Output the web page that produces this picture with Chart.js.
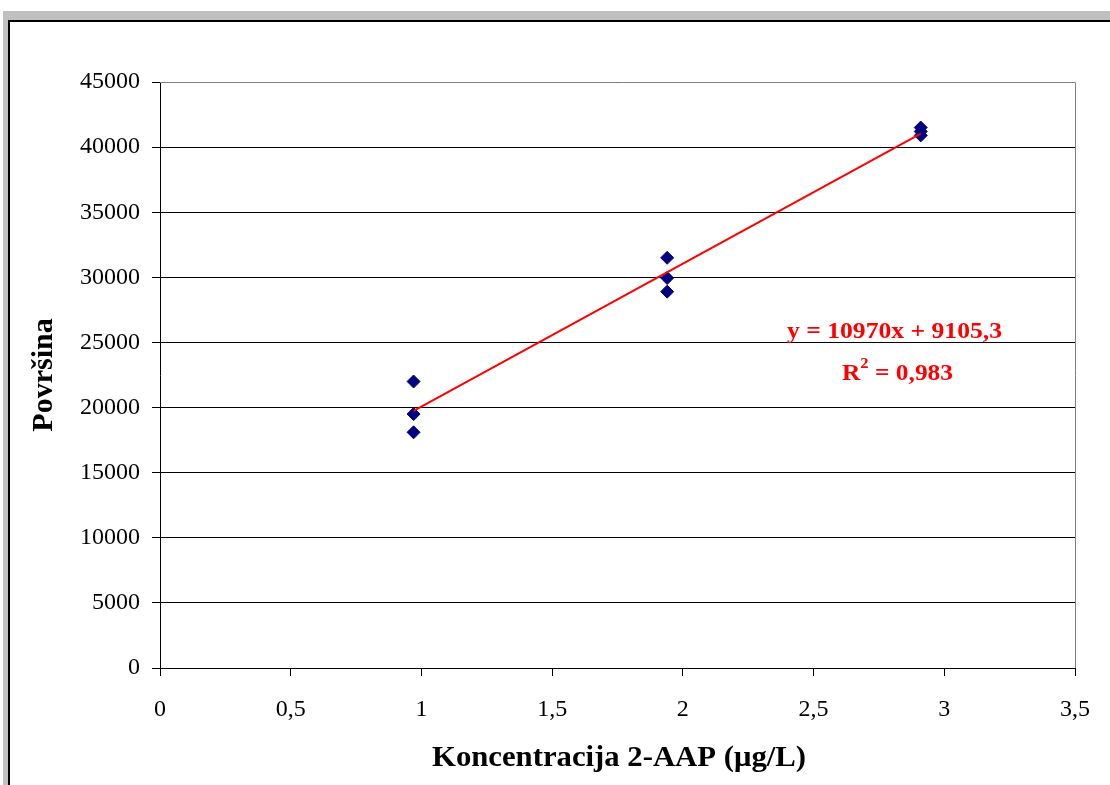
<!DOCTYPE html>
<html>
<head>
<meta charset="utf-8">
<script src="https://cdn.jsdelivr.net/npm/chart.js@4.4.0/dist/chart.umd.min.js"></script>
<style>
  html, body { margin: 0; padding: 0; background: #fff; width: 1110px; height: 785px; overflow: hidden; }
  #gray { position: absolute; left: 3px; top: 11px; right: 0; bottom: 0; background: #c0c0c0; }
  #inner { position: absolute; left: 8px; top: 20px; right: 0; bottom: 0; background: #fff; border-top: 2px solid #000; border-left: 2px solid #000; }
  #wrap { position: absolute; left: 0; top: 0; width: 1110px; height: 785px; }
</style>
</head>
<body>
<div id="gray"></div>
<div id="inner"></div>
<div id="wrap"><canvas id="c" width="1110" height="785"></canvas></div>
<script>
// ---- data ----
const concentration = [0.97, 0.97, 0.97, 1.94, 1.94, 1.94, 2.91, 2.91, 2.91];
const area = [22000, 19500, 18100, 31500, 29950, 28900, 41500, 41200, 40900];
const slope = 10970;
const intercept = 9105.3;
const trendX = [0.97, 2.91];
const equationText = "y = 10970x + 9105,3";
const r2Value = "0,983";
const xTitle = "Koncentracija 2-AAP (\u03BCg/L)";
const yTitle = "Površina";
const yTicks = [0, 5000, 10000, 15000, 20000, 25000, 30000, 35000, 40000, 45000];
const xTicks = ["0", "0,5", "1", "1,5", "2", "2,5", "3", "3,5"];

const points = concentration.map((x, i) => ({ x: x, y: area[i] }));
const trend = trendX.map(x => ({ x: x, y: slope * x + intercept }));

const FONT = "'Liberation Serif', 'Times New Roman', serif";

// draw text centered at (cx, cy), squeezed horizontally to width w
function fitText(ctx, text, cx, cy, w) {
  const m = ctx.measureText(text).width;
  const s = w / m;
  ctx.save();
  ctx.translate(cx, cy);
  ctx.scale(s, 1);
  ctx.textAlign = 'center';
  ctx.textBaseline = 'middle';
  ctx.fillText(text, 0, 0);
  ctx.restore();
}

const annot = {
  id: 'annot',
  afterDraw(chart) {
    const ctx = chart.ctx;
    const a = chart.chartArea;
    ctx.save();
    // plot area border (top/right gray)
    ctx.strokeStyle = '#808080';
    ctx.lineWidth = 1;
    ctx.beginPath();
    ctx.moveTo(a.left, a.top + 0.5);
    ctx.lineTo(a.right + 0.5, a.top + 0.5);
    ctx.lineTo(a.right + 0.5, a.bottom);
    ctx.stroke();
    // equation: left edge at 787, prefix "y = 10970x + 910" spans 183px
    ctx.fillStyle = '#ff0000';
    ctx.font = 'bold 23px ' + FONT;
    const pre = ctx.measureText(equationText.slice(0, 16)).width;
    const es = 183 / pre;
    ctx.save();
    ctx.translate(787, 332);
    ctx.scale(es, 1);
    ctx.textAlign = 'left';
    ctx.textBaseline = 'middle';
    ctx.fillText(equationText, 0, 0);
    ctx.restore();
    // R^2 line
    const rx0 = 842, ry = 374, targetW = 111;
    ctx.font = 'bold 23px ' + FONT;
    const wR = ctx.measureText('R').width;
    const rest = ' = ' + r2Value;
    const wRest = ctx.measureText(rest).width;
    ctx.font = 'bold 15px ' + FONT;
    const wSup = ctx.measureText('2').width;
    const total = wR + wSup + wRest;
    const s = targetW / total;
    ctx.save();
    ctx.translate(rx0, ry);
    ctx.scale(s, 1);
    ctx.textAlign = 'left';
    ctx.textBaseline = 'middle';
    ctx.font = 'bold 23px ' + FONT;
    ctx.fillText('R', 0, 0);
    ctx.font = 'bold 15px ' + FONT;
    ctx.fillText('2', wR, -10);
    ctx.font = 'bold 23px ' + FONT;
    ctx.fillText(rest, wR + wSup, 0);
    ctx.restore();
    // axis titles
    ctx.fillStyle = '#000';
    ctx.font = 'bold 30px ' + FONT;
    fitText(ctx, xTitle, 619, 758, 374);
    ctx.translate(44, 375);
    ctx.rotate(-Math.PI / 2);
    ctx.textAlign = 'center';
    ctx.textBaseline = 'middle';
    ctx.fillText(yTitle, 0, 0);
    ctx.restore();
  }
};

new Chart(document.getElementById('c'), {
  type: 'scatter',
  data: {
    datasets: [
      {
        label: 'Površina',
        data: points,
        pointStyle: 'rectRot',
        pointRadius: 6.5,
        pointHoverRadius: 6.5,
        backgroundColor: '#000080',
        borderColor: '#000080',
        borderWidth: 1,
        order: 2
      },
      {
        label: 'trend',
        data: trend,
        showLine: true,
        borderColor: '#ff0000',
        borderWidth: 2,
        pointRadius: 0,
        pointHoverRadius: 0,
        fill: false,
        order: 1
      }
    ]
  },
  options: {
    responsive: false,
    animation: false,
    events: [],
    layout: { padding: { left: 0, right: 35, top: 82, bottom: 0 } },
    plugins: { legend: { display: false }, tooltip: { enabled: false } },
    scales: {
      x: {
        type: 'linear',
        min: 0, max: 3.5,
        afterFit(s) { s.height = 117; },
        afterBuildTicks(s) { s.ticks = xTicks.map((t, i) => ({ value: i * 0.5 })); },
        ticks: {
          callback: (v, i) => xTicks[i],
          color: '#000',
          font: { family: FONT, size: 24 },
          padding: 19,
          maxRotation: 0,
          autoSkip: false
        },
        grid: {
          drawOnChartArea: false,
          drawTicks: true,
          tickLength: 8,
          color: '#000'
        },
        border: { color: '#000', width: 1 }
      },
      y: {
        type: 'linear',
        min: 0, max: 45000,
        afterFit(s) { s.width = 160; },
        afterBuildTicks(s) { s.ticks = yTicks.map(v => ({ value: v })); },
        ticks: {
          callback: (v) => String(v),
          color: '#000',
          font: { family: FONT, size: 24 },
          padding: 12,
          autoSkip: false
        },
        grid: {
          color: '#000',
          lineWidth: 1,
          tickLength: 8
        },
        border: { color: '#000', width: 1 }
      }
    }
  },
  plugins: [annot]
});
</script>
</body>
</html>
